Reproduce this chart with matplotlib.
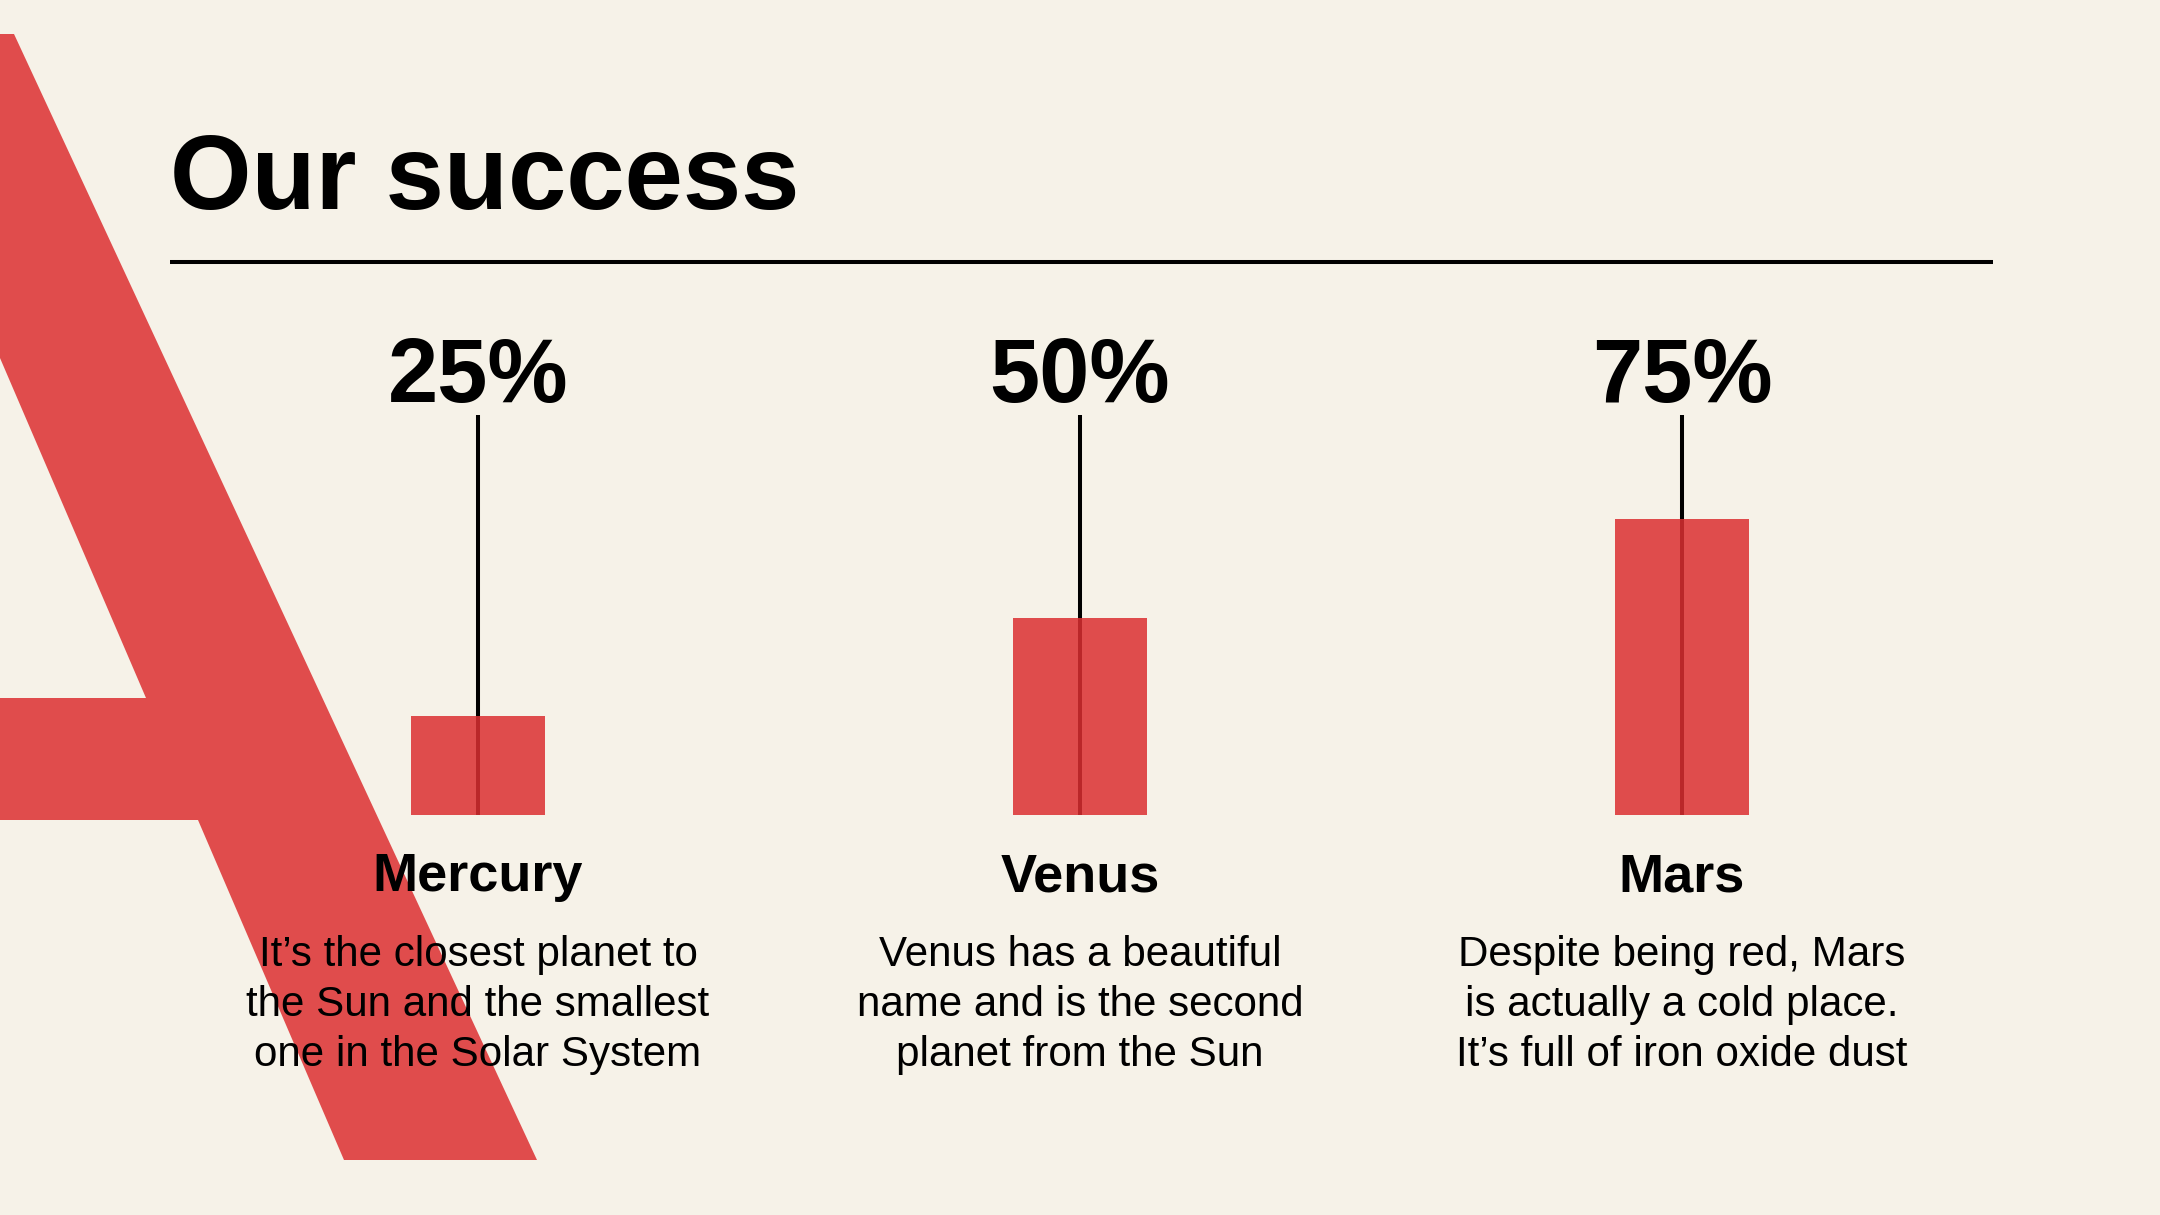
import matplotlib
matplotlib.use('Agg')
import matplotlib.pyplot as plt
from matplotlib.patches import Polygon
from matplotlib.transforms import blended_transform_factory

# ---------------- data ----------------
title = 'Our success'
categories = ['Mercury', 'Venus', 'Mars']
values = [25, 50, 75]
value_labels = ['25%', '50%', '75%']
descriptions = [
    ['It\u2019s the closest planet to', 'the Sun and the smallest', 'one in the Solar System'],
    ['Venus has a beautiful', 'name and is the second', 'planet from the Sun'],
    ['Despite being red, Mars', 'is actually a cold place.', 'It\u2019s full of iron oxide dust'],
]

# ---------------- style ----------------
plt.rcParams['font.family'] = ['Liberation Sans', 'DejaVu Sans']
BG = '#F6F2E8'
RED = '#E04C4C'
BAR = (220 / 255, 47 / 255, 49 / 255)
W, H, DPI = 2160, 1215, 100

fig = plt.figure(figsize=(W / DPI, H / DPI), dpi=DPI, facecolor=BG)

# background layer in pixel coordinates (y downwards)
bg = fig.add_axes([0, 0, 1, 1])
bg.set_xlim(0, W)
bg.set_ylim(H, 0)
bg.axis('off')

a_shape = [(0, 34), (14, 34), (537, 1160), (344, 1160), (198, 820), (0, 820),
           (0, 698), (146, 698), (0, 358)]
bg.add_patch(Polygon(a_shape, closed=True, facecolor=RED, edgecolor='none', zorder=0))

bg.text(170, 209, title, fontsize=75.5, fontweight='bold', color='black',
        ha='left', va='baseline')
bg.plot([170, 1993], [262, 262], color='black', lw=2.9, solid_capstyle='butt')

# bar layer
ax = fig.add_axes([177 / W, 400 / H, 1806 / W, 400 / H])
ax.patch.set_alpha(0)
ax.set_xlim(-0.5, 2.5)
ax.set_ylim(0, 400 / 3.95)
ax.axis('off')

x = list(range(len(categories)))
ax.vlines(x, 0, 400 / 3.95, color='black', lw=2.9, zorder=1)
ax.bar(x, values, width=134 / 602, color=BAR, alpha=0.85, zorder=2, linewidth=0)

tr = blended_transform_factory(ax.transData, bg.transData)
for i, (cat, lab, desc) in enumerate(zip(categories, value_labels, descriptions)):
    ax.text(i, 402, lab, transform=tr, fontsize=65, fontweight='bold',
            ha='center', va='baseline', color='black')
    ax.text(i, 891, cat, transform=tr, fontsize=39, fontweight='bold',
            ha='center', va='baseline', color='black')
    for j, line in enumerate(desc):
        ax.text(i, 966 + 50 * j, line, transform=tr, fontsize=30.3,
                ha='center', va='baseline', color='black')

fig.savefig('out.png', dpi=DPI, facecolor=BG)
